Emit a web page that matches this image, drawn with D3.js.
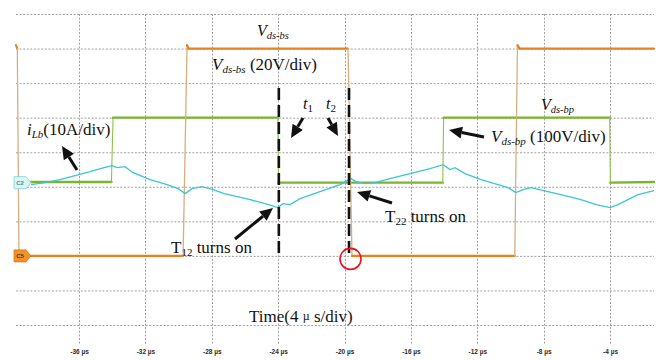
<!DOCTYPE html>
<html>
<head>
<meta charset="utf-8">
<script src="https://cdn.jsdelivr.net/npm/d3@7"></script>
<style>
  html, body { margin: 0; padding: 0; background: #fff; }
  svg { display: block; }
  .lbl { font-family: "Liberation Serif", "Times New Roman", serif; fill: #111; }
</style>
</head>
<body>
<svg id="chart" width="672" height="360"></svg>
<script>
// Time axis (µs) and vertical divisions
const timeTicks = [-36, -32, -28, -24, -20, -16, -12, -8, -4];
const divLines = [0, 1, 2, 3, 4, 5, 6, 7, 8, 9];

// Channel C5: V_ds-bs (V), 20 V/div
const vbsTime = [-39.8, -39.72, -39.62, -29.73, -29.49, -29.4, -19.79, -19.55, -9.74, -9.58, -9.45, -1.35];
const vbsVolt = [122, 120, 0, 0, 122, 120, 120, 0, 0, 122, 120, 120];

// Channel: V_ds-bp (V), 100 V/div
const vbpTime = [-38.9, -34.05, -33.95, -24.02, -23.98, -14.08, -14.03, -4.02, -3.98, -1.35];
const vbpVolt = [2, 2, 188, 188, 0, 0, 188, 188, 0, 2];

// Channel C2: i_Lb (A), 10 A/div
const iTime = [-38.89, -38.05, -37.15, -36.24, -35.34, -34.49, -34.01, -33.71, -33.23, -32.75, -31.72,
  -30.70, -30.03, -29.61, -29.19, -28.59, -27.92, -27.26, -25.69, -24.79, -24.01, -23.71, -23.28,
  -22.68, -21.48, -20.27, -19.61, -19.31, -18.76, -18.16, -17.26, -16.05, -14.85, -14.06, -13.64,
  -13.34, -12.74, -11.77, -10.75, -10.15, -9.67, -9.24, -8.76, -7.74, -6.71, -5.75, -4.84, -4.00,
  -3.52, -2.92, -2.31, -1.35];
const iAmp = [-0.58, 0, 0.87, 2.03, 3.18, 4.34, 4.92, 4.34, 4.63, 2.89, 0.87,
  -0.58, -1.74, -3.18, -1.74, -1.16, -2.03, -3.18, -4.92, -6.08, -7.23, -6.08, -6.37,
  -4.63, -2.60, -0.58, 1.16, 0.29, -0.29, 0, 1.16, 2.60, 4.05, 5.21, 3.76,
  4.34, 2.60, 0.87, -0.58, -1.45, -2.89, -2.03, -1.45, -2.60, -3.76, -4.92, -6.37, -7.23,
  -6.37, -4.92, -3.47, -2.31];

// Switching instants marked with dashed lines (µs)
const eventTimes = [-23.96, -19.73];

const svg = d3.select("#chart");
const x = d3.scaleLinear().domain([-39.8, -1.35]).range([16, 654]);
const yDiv = d3.scaleLinear().domain([0, 9]).range([325, 14]);

// per-channel offset (div) and sensitivity (units/div)
const yBs = v => yDiv(2.0 + v / 20);
const yBp = v => yDiv(4.12 + v / 100);
const yI = a => yDiv(4.12 + a / 10);

// grid
const grid = svg.append("g").attr("stroke", "#a0a0a0").attr("stroke-width", 1).attr("stroke-dasharray", "2,1.6");
grid.selectAll("line.h").data(divLines).join("line").attr("class", "h")
  .attr("x1", 16).attr("x2", 654).attr("y1", d => yDiv(d) + 0.5).attr("y2", d => yDiv(d) + 0.5);
grid.selectAll("line.v").data(timeTicks).join("line").attr("class", "v")
  .attr("x1", d => Math.round(x(d)) + 0.5).attr("x2", d => Math.round(x(d)) + 0.5)
  .attr("y1", 14).attr("y2", 345);

// time axis labels
const axis = d3.axisBottom(x).tickValues(timeTicks).tickSize(0).tickFormat(d => d + " µs");
const ax = svg.append("g").attr("transform", "translate(0,347)").call(axis);
ax.select(".domain").remove();
ax.selectAll("text").attr("font-family", "Liberation Sans, Arial, sans-serif")
  .attr("font-size", 6.5).attr("font-weight", "bold").attr("fill", "#2a2a2a").attr("dy", "0.6em");

// draw a trace: thin edges for fast transitions, thicker levels
function trace(times, vals, yf, levelColor, edgeColor, levelWidth, edgeWidth) {
  const pts = times.map((t, i) => [x(t), yf(vals[i])]);
  const segs = d3.pairs(pts);
  const g = svg.append("g").attr("fill", "none").attr("stroke-linecap", "round");
  g.selectAll("line").data(segs).join("line")
    .attr("x1", d => d[0][0]).attr("y1", d => d[0][1])
    .attr("x2", d => d[1][0]).attr("y2", d => d[1][1])
    .attr("stroke", d => Math.abs(d[1][1] - d[0][1]) > 20 ? edgeColor : levelColor)
    .attr("stroke-width", d => Math.abs(d[1][1] - d[0][1]) > 20 ? edgeWidth : levelWidth);
}

trace(vbpTime, vbpVolt, yBp, "#7ab52c", "#8cc24a", 2.4, 1.1);
trace(vbsTime, vbsVolt, yBs, "#e8821e", "#d8ad80", 2.2, 1.3);

const iLine = d3.line().x((d, i) => x(iTime[i])).y(d => yI(d));
svg.append("path").datum(iAmp).attr("d", iLine)
  .attr("fill", "none").attr("stroke", "#3cc6cf").attr("stroke-width", 1.3);

// dashed event lines
svg.selectAll("line.ev").data(eventTimes).join("line").attr("class", "ev")
  .attr("x1", d => x(d)).attr("x2", d => x(d))
  .attr("y1", yDiv(6.86)).attr("y2", yDiv(1.95))
  .attr("stroke", "#111").attr("stroke-width", 2.6).attr("stroke-dasharray", "12,5");

// red circle at the turn-off corner
svg.append("circle").attr("cx", x(eventTimes[1]) + 1.5).attr("cy", yBs(0) + 3).attr("r", 10.5)
  .attr("fill", "none").attr("stroke", "#e8101a").attr("stroke-width", 1.6);

// channel ground markers
function marker(yc, fill, stroke, txt, tcol) {
  const g = svg.append("g");
  g.append("path").attr("d", `M14,${yc - 6} L26,${yc - 6} L31,${yc} L26,${yc + 6} L14,${yc + 6} Z`)
    .attr("fill", fill).attr("stroke", stroke).attr("stroke-width", 0.8);
  g.append("text").attr("x", 20).attr("y", yc + 2).attr("text-anchor", "middle")
    .attr("font-family", "Liberation Sans, Arial, sans-serif").attr("font-size", 6)
    .attr("font-weight", "bold").attr("fill", tcol).text(txt);
}
marker(yI(0), "#d8f6f6", "#7fd4d8", "C2", "#4a8c90");
marker(yBs(0), "#f0922c", "#d7761a", "C5", "#5a3008");

// arrows
function arrow(x1, y1, x2, y2) {
  const ang = Math.atan2(y2 - y1, x2 - x1);
  const L = 13, W = 6;
  const bx = x2 - L * Math.cos(ang), by = y2 - L * Math.sin(ang);
  svg.append("line").attr("x1", x1).attr("y1", y1).attr("x2", bx).attr("y2", by)
    .attr("stroke", "#111").attr("stroke-width", 3);
  const px = -Math.sin(ang) * W, py = Math.cos(ang) * W;
  svg.append("path").attr("d", `M${x2},${y2} L${bx + px},${by + py} L${bx - px},${by - py} Z`)
    .attr("fill", "#111");
}
arrow(77, 170, 62, 146);
arrow(484, 137, 449, 130);
arrow(303, 118, 291, 138);
arrow(328, 118, 338, 136);
arrow(235, 239, 273, 208);
arrow(392, 203, 357, 192);

// text labels
function label(xp, yp, parts) {
  const t = svg.append("text").attr("class", "lbl").attr("x", xp).attr("y", yp);
  parts.forEach(p => {
    const s = t.append("tspan").text(p.t).attr("font-size", p.s || 17);
    if (p.i) s.attr("font-style", "italic");
    if (p.dy) s.attr("dy", p.dy);
  });
}
label(257, 36, [{ t: "V", i: 1, s: 16 }, { t: "ds-bs", i: 1, s: 10.5, dy: 3 }]);
label(212, 70, [{ t: "V", i: 1 }, { t: "ds-bs", i: 1, s: 11, dy: 3 }, { t: " (20V/div)", dy: -3 }]);
label(303, 109, [{ t: "t", i: 1, s: 16 }, { t: "1", s: 11, dy: 3 }]);
label(326, 109, [{ t: "t", i: 1, s: 16 }, { t: "2", s: 11, dy: 3 }]);
label(541, 110, [{ t: "V", i: 1, s: 16 }, { t: "ds-bp", i: 1, s: 10.5, dy: 3 }]);
label(27, 135, [{ t: "i", i: 1 }, { t: "Lb", i: 1, s: 11, dy: 3 }, { t: "(10A/div)", dy: -3 }]);
label(491, 142, [{ t: "V", i: 1 }, { t: "ds-bp", i: 1, s: 11, dy: 3 }, { t: " (100V/div)", dy: -3 }]);
label(385, 222, [{ t: "T" }, { t: "22", s: 11, dy: 3 }, { t: " turns on", dy: -3 }]);
label(171, 253, [{ t: "T" }, { t: "12", s: 11, dy: 3 }, { t: " turns on", dy: -3 }]);
label(249, 322, [{ t: "Time(4 " }, { t: "µ", s: 12, dy: -2 }, { t: " s/div)", dy: 2 }]);
</script>
</body>
</html>
